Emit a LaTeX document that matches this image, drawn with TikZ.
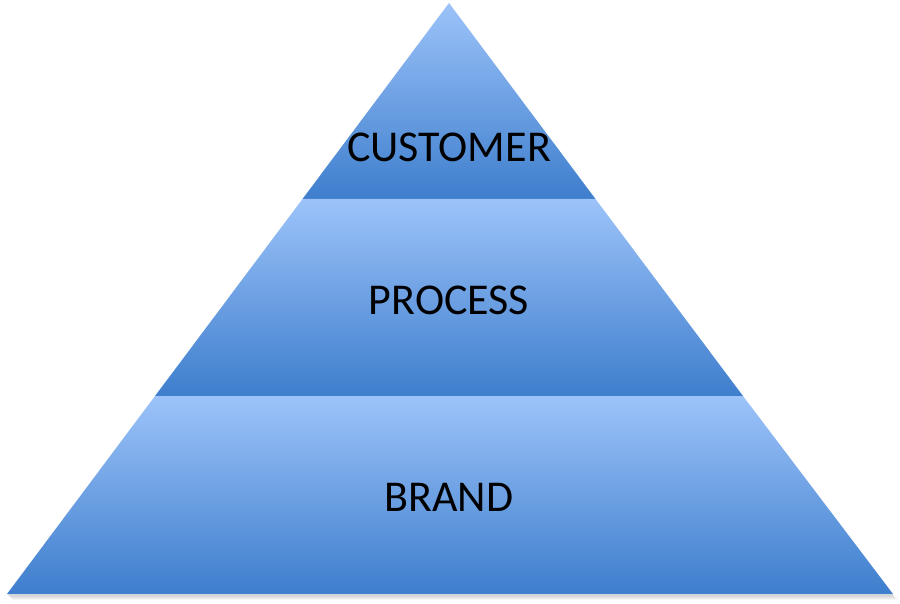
\documentclass[tikz,border=0pt]{standalone}
\usepackage{fontspec}
\setmainfont{Carlito}
\usetikzlibrary{calc}

\begin{document}
\begin{tikzpicture}[x=1pt, y=-1pt,
  tier/.style={top color=tierTop, bottom color=tierBottom, draw=none},
  lbl/.style={font=\fontsize{44}{44}\selectfont, text=black, inner sep=0pt}
]
\definecolor{tierTop}{HTML}{9CC3F9}
\definecolor{tierBottom}{HTML}{3E7ECD}
\useasboundingbox (0,0) rectangle (900,604);
% corner points of the pyramid
\coordinate (apex) at (449,3);
\coordinate (bl) at (7,594);
\coordinate (br) at (893,594);
\coordinate (m1l) at (302.5,199);
\coordinate (m1r) at (595.5,199);
\coordinate (m2l) at (155,396);
\coordinate (m2r) at (743,396);
% soft shadow under the base
\foreach \d/\o in {1/0.10, 2/0.08, 3/0.06, 4/0.04, 5/0.03}
  \fill[black, opacity=\o] ($(bl)+(\d,\d-1)$) -- ($(br)+(\d-1,\d-1)$)
    -- ($(br)+(\d-1,\d+1)$) -- ($(bl)+(\d+1,\d+1)$) -- cycle;
% tiers
\shade[tier] (apex) -- (m1r) -- (m1l) -- cycle;
\shade[tier] (m1l) -- (m1r) -- (m2r) -- (m2l) -- cycle;
\shade[tier] (m2l) -- (m2r) -- (br) -- (bl) -- cycle;
% labels
\node[lbl] (customer) at (449,147) {CUSTOMER};
\node[lbl] (process) at (449,300) {PROCESS};
\node[lbl] (brand) at (449,497) {BRAND};
\end{tikzpicture}
\end{document}
